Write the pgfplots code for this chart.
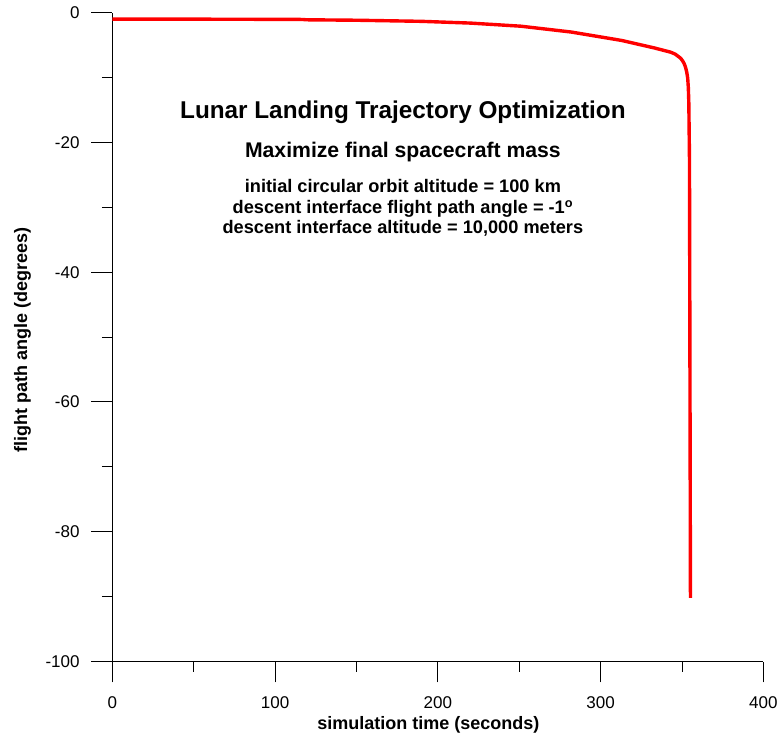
\documentclass[border=0pt]{standalone}
\usepackage{pgfplots}
\pgfplotsset{compat=1.18}
\usepackage{fontspec}
\setmainfont{Liberation Sans}

\begin{document}
\begin{tikzpicture}
\begin{axis}[
  scale only axis,
  width=651pt, height=649pt,
  xmin=0, xmax=400, ymin=-100, ymax=0,
  axis lines*=left,
  axis line style={black, line width=1.2pt, -},
  xtick={0,100,...,400}, ytick={-100,-80,...,0},
  minor tick num=1,
  tick align=outside,
  major tick length=21pt, minor tick length=10.5pt,
  every tick/.style={black, line width=1pt},
  tick label style={font=\fontsize{17}{20}\selectfont, inner sep=0pt},
  /pgf/number format/assume math mode=true,
  xticklabel style={yshift=-14pt},
  yticklabel style={xshift=-11.7pt},
  xlabel={simulation time (seconds)},
  ylabel={flight path angle (degrees)},
  label style={font=\bfseries\fontsize{18}{21}\selectfont, inner sep=0pt},
  xlabel style={at={(axis description cs:0.4854,-0.1043)}, anchor=base},
  ylabel style={at={(axis description cs:-0.131,0.495)}, anchor=base, rotate=0},
  clip=false,
]
% flight path angle history of the optimal descent
\addplot[red, line width=3.4pt, line join=round] coordinates {
  (0,-1.00) (40,-1.01) (80,-1.03) (117,-1.06) (119,-1.11)
  (150,-1.18) (190,-1.35) (220,-1.62) (251,-2.10) (282,-3.00)
  (313,-4.30) (333,-5.45) (343,-6.10) (345.8,-6.40) (347.7,-6.75)
  (349.2,-7.05) (350.4,-7.45) (351.4,-7.90) (352.2,-8.45) (352.9,-9.15)
  (353.5,-10.1) (353.9,-11.6) (354.2,-14.0) (354.6,-22.7) (355.2,-90.2)
};
\node[anchor=base, font=\bfseries\fontsize{24.3}{28}\selectfont] at (axis cs:178.5,-16.39) {Lunar Landing Trajectory Optimization};
\node[anchor=base, font=\bfseries\fontsize{21.2}{25}\selectfont] at (axis cs:178.5,-22.4) {Maximize final spacecraft mass};
\node[anchor=base, font=\bfseries\fontsize{18.2}{21}\selectfont] at (axis cs:178.5,-27.8) {initial circular orbit altitude = 100 km};
\node[anchor=base, font=\bfseries\fontsize{18.2}{21}\selectfont] at (axis cs:178.5,-30.96) {descent interface flight path angle = -1\textsuperscript{o}};
\node[anchor=base, font=\bfseries\fontsize{18.2}{21}\selectfont] at (axis cs:178.5,-34.1) {descent interface altitude = 10,000 meters};
\coordinate (bbsw) at (axis cs:-69.1,-112.1);
\coordinate (bbne) at (axis cs:409.0,1.94);
\end{axis}
\pgfresetboundingbox
\path (bbsw) rectangle (bbne);
\end{tikzpicture}
\end{document}
